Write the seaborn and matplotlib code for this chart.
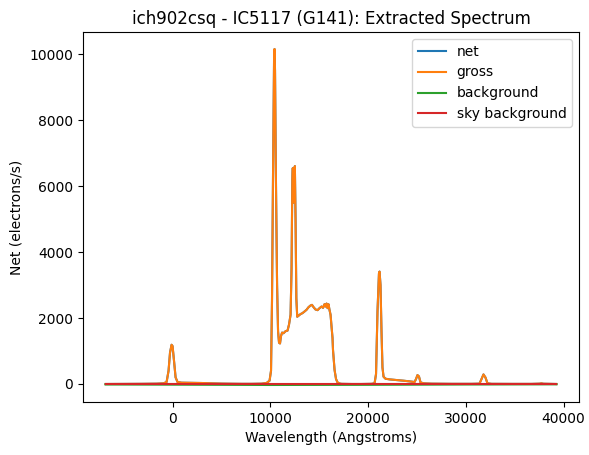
import numpy as np
import pandas as pd
import matplotlib
matplotlib.use("Agg")
import matplotlib.pyplot as plt
import seaborn as sns

wavelength = [
    -6850, -5215, -3170, -1640, -920, -610, -410, -260, -100, 0, 150, 310, 510,
    920, 1940, 2970, 3990, 5010, 6030, 7060, 8080, 9100, 9610, 9920, 10070,
    10170, 10280, 10380, 10430, 10480, 10580, 10690, 10790, 10890, 10990,
    11090, 11200, 11350, 11550, 11760, 11910, 12070, 12170, 12250, 12300,
    12370, 12420, 12510, 12580, 12660, 12750, 12880, 13090, 13290, 13500,
    13700, 13910, 14110, 14260, 14420, 14620, 14830, 15030, 15240, 15390,
    15540, 15640, 15750, 15850, 15950, 16050, 16160, 16260, 16360, 16410,
    16570, 16720, 16870, 17080, 17280, 18300, 19330, 20350, 20660, 20810,
    20960, 21110, 21170, 21270, 21370, 21470, 21580, 21780, 22190, 22900,
    23620, 24230, 24750, 24900, 25050, 25200, 25360, 25670, 26480, 28530,
    30570, 31390, 31600, 31800, 32000, 32210, 32620, 34660, 36710, 37530,
    37730, 37940, 39260,
]
net = [
    0, 2, 5, 10, 20, 60, 400, 950, 1190, 1150, 700, 200, 60,
    40, 35, 30, 20, 12, 8, 5, 5, 10, 30, 100, 400,
    2500, 6500, 9800, 10160, 9500, 6000, 3000, 1600, 1250, 1230,
    1450, 1560, 1540, 1600, 1620, 1800, 2100, 3500, 6200, 6550,
    5500, 6000, 6610, 5000, 2600, 2040, 2070, 2120, 2150, 2200,
    2250, 2330, 2380, 2400, 2330, 2260, 2240, 2300, 2350, 2310,
    2420, 2350, 2440, 2300, 2420, 2250, 2100, 1740, 1400, 1030,
    425, 150, 50, 15, 5, 0, 0, 5, 20, 300,
    2200, 3350, 3410, 3000, 1600, 500, 220, 160, 140, 120,
    100, 80, 60, 150, 270, 230, 50, 20, 10, 5,
    5, 10, 150, 290, 200, 20, 5, 3, 3, 10,
    20, 8, 0,
]
gross = [
    0, 2, 5, 10, 20, 60, 400, 950, 1190, 1150, 700, 200, 60,
    40, 35, 30, 20, 12, 8, 5, 5, 10, 30, 100, 400,
    2500, 6500, 9800, 10160, 9500, 6000, 3000, 1600, 1250, 1230,
    1450, 1560, 1540, 1600, 1620, 1800, 2100, 3500, 6200, 6550,
    5500, 6000, 6610, 5000, 2600, 2040, 2070, 2120, 2150, 2200,
    2250, 2330, 2380, 2400, 2330, 2260, 2240, 2300, 2350, 2310,
    2420, 2350, 2440, 2300, 2420, 2250, 2100, 1740, 1400, 1030,
    425, 150, 50, 15, 5, 0, 0, 5, 20, 300,
    2200, 3350, 3410, 3000, 1600, 500, 220, 160, 140, 120,
    100, 80, 60, 150, 270, 230, 50, 20, 10, 5,
    5, 10, 150, 290, 200, 20, 5, 3, 3, 10,
    20, 8, 0,
]
bkg_wavelength = [-6850, 0, 10000, 20000, 30000, 39260]
background = [-15, -20, -30, -25, -15, -10]
sky_background = [0, 0, 0, 0, 0, 0]

fig = plt.figure(figsize=(5.89, 4.55), dpi=100)
ax = fig.add_axes([83 / 589, (455 - 402) / 455, 496 / 589, 370 / 455])

sns.lineplot(x=wavelength, y=net, ax=ax, color="C0", label="net", linewidth=1.5)
sns.lineplot(x=wavelength, y=gross, ax=ax, color="C1", label="gross", linewidth=1.5)
sns.lineplot(x=bkg_wavelength, y=background, ax=ax, color="C2", label="background", linewidth=1.5)
sns.lineplot(x=bkg_wavelength, y=sky_background, ax=ax, color="C3", label="sky background", linewidth=1.5)

ax.set_xlim(-9160, 41570)
ax.set_ylim(-546, 10676)
ax.set_xticks([0, 10000, 20000, 30000, 40000])
ax.set_yticks([0, 2000, 4000, 6000, 8000, 10000])
ax.set_title("ich902csq - IC5117 (G141): Extracted Spectrum")
ax.set_xlabel("Wavelength (Angstroms)")
ax.set_ylabel("Net (electrons/s)")
ax.legend(loc="upper right")

fig.savefig("out.png", dpi=100)
